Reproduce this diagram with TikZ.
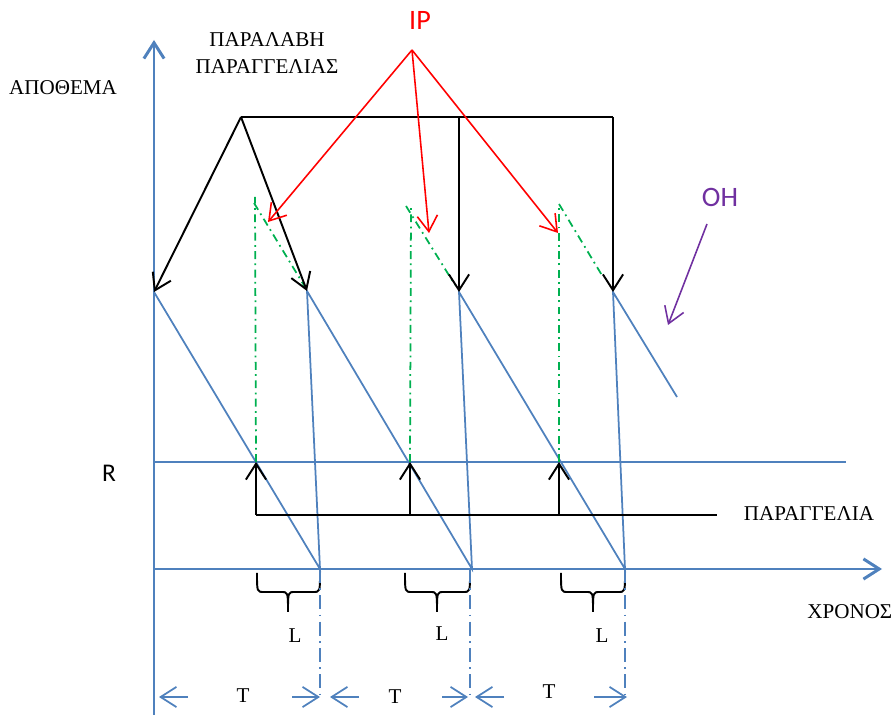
\documentclass[tikz,border=0pt]{standalone}
\usepackage{fontspec}
\setmainfont{Liberation Serif}
\newfontfamily\calibri{Carlito}
\usepackage{tikz}
\usetikzlibrary{arrows.meta}
\definecolor{axisblue}{RGB}{79,129,189}
\definecolor{ipgreen}{RGB}{0,176,80}
\definecolor{ohpurple}{RGB}{112,48,160}

\begin{document}
\begin{tikzpicture}[x=0.02cm, y=-0.02cm,
    barb/.style={-{Straight Barb[length=9pt,width=11.5pt]}},
    axis/.style={axisblue, line width=1.7pt},
    stock/.style={axisblue, line width=1pt},
    order/.style={black, line width=1.1pt},
    ipline/.style={ipgreen, line width=1pt, dash pattern=on 4.5pt off 2.5pt on 1pt off 2.5pt},
    tline/.style={axisblue, line width=1pt, dash pattern=on 8pt off 3pt on 1pt off 3pt},
    greek/.style={font=\fontsize{12}{14}\selectfont, inner sep=0pt},
    sans/.style={font=\calibri\fontsize{16}{18}\selectfont, inner sep=0pt}]
    \useasboundingbox (0,0) rectangle (896,715);

    % Axes
    \coordinate (yBot) at (154,715);
    \coordinate (yTop) at (154,40);
    \coordinate (O) at (154,569);
    \coordinate (xEnd) at (882,569);
    \draw[axis, barb] (yBot) -- (yTop);
    \draw[axis, barb] (O) -- (xEnd);
    \node[greek] (stock) at (63,88) {ΑΠΟΘΕΜΑ};
    \node[greek, anchor=west] (time) at (807,612) {ΧΡΟΝΟΣ};

    % Reorder level R
    \coordinate (Rl) at (154,462);
    \coordinate (Rr) at (846,462);
    \draw[stock] (Rl) -- (Rr);
    \node[sans, font=\calibri\fontsize{14.5}{16}\selectfont] (R) at (109,473) {R};

    % Stock curve
    \coordinate (p1) at (154,292);
    \coordinate (p2) at (307,291);
    \coordinate (p3) at (459,292);
    \coordinate (p4) at (613,292);
    \coordinate (t1) at (320,569);
    \coordinate (t2) at (472,569);
    \coordinate (t3) at (625,569);
    \coordinate (e) at (677,397);
    \draw[stock] (p1) -- (t1) -- (p2) -- (t2) -- (p3) -- (t3) -- (p4) -- (e);

    % Inventory position (green)
    \coordinate (r1) at (256,462);
    \coordinate (r2) at (410,462);
    \coordinate (r3) at (559,462);
    \coordinate (g1) at (255,197);
    \coordinate (g2) at (411,205);
    \coordinate (g3) at (559,204);
    \draw[ipline] (r1) -- (g1);
    \draw[ipline] (r2) -- (g2);
    \draw[ipline] (r3) -- (g3);
    \draw[ipline] (254,203) -- (305,287);
    \draw[ipline] (406,206) -- (455,285);
    \draw[ipline] (559,204) -- (603,277);

    % Orders
    \coordinate (o1) at (256,515);
    \coordinate (o2) at (410,515);
    \coordinate (o3) at (559,515);
    \coordinate (oEnd) at (717,515);
    \draw[order] (o1) -- (oEnd);
    \draw[order, barb] (o1) -- (r1);
    \draw[order, barb] (o2) -- (r2);
    \draw[order, barb] (o3) -- (r3);
    \node[greek] (order) at (809,514) {ΠΑΡΑΓΓΕΛΙΑ};

    % Receipt of orders
    \coordinate (apex) at (241,117);
    \coordinate (b3) at (459,117);
    \coordinate (b4) at (613,117);
    \draw[order] (apex) -- (b4);
    \draw[order, barb] (apex) -- (p1);
    \draw[order, barb] (apex) -- (p2);
    \draw[order, barb] (b3) -- (p3);
    \draw[order, barb] (b4) -- (p4);
    \node[greek] (recv) at (267,40) {ΠΑΡΑΛΑΒΗ};
    \node[greek] (recv2) at (267,67) {ΠΑΡΑΓΓΕΛΙΑΣ};

    % IP
    \node[sans, red] (IP) at (420,20) {IP};
    \coordinate (ip) at (412,50);
    \coordinate (ip1) at (268,222);
    \coordinate (ip2) at (429,233);
    \coordinate (ip3) at (558,233);
    \draw[red, line width=0.9pt, barb] (ip) -- (ip1);
    \draw[red, line width=0.9pt, barb] (ip) -- (ip2);
    \draw[red, line width=0.9pt, barb] (ip) -- (ip3);

    % OH
    \node[sans, ohpurple] (OH) at (720,197) {OH};
    \coordinate (oh1) at (707,224);
    \coordinate (oh2) at (668,325);
    \draw[ohpurple, line width=0.9pt, barb] (oh1) -- (oh2);

    % Lead time braces
    \draw[order] (257,573) .. controls (257,592) .. (264,592) -- (281,592) .. controls (288,592) .. (288,612);
    \draw[order] (288,612) .. controls (288,592) .. (295,592) -- (313,592) .. controls (320,592) .. (320,573);
    \draw[order] (405,573) .. controls (405,592) .. (412,592) -- (430,592) .. controls (437,592) .. (437,612);
    \draw[order] (437,612) .. controls (437,592) .. (444,592) -- (463,592) .. controls (470,592) .. (470,573);
    \draw[order] (561,573) .. controls (561,592) .. (568,592) -- (586,592) .. controls (593,592) .. (593,612);
    \draw[order] (593,612) .. controls (593,592) .. (600,592) -- (618,592) .. controls (625,592) .. (625,573);
    \node[greek] (L1) at (295,636) {L};
    \node[greek] (L2) at (442,634) {L};
    \node[greek] (L3) at (602,636) {L};

    % Review period T
    \coordinate (d1) at (320,700);
    \coordinate (d2) at (470,700);
    \coordinate (d3) at (625,700);
    \draw[tline] (t1) -- (d1);
    \draw[tline] (470,569) -- (d2);
    \draw[tline] (t3) -- (d3);
    \draw[stock, barb] (188,697) -- (159,697);
    \draw[stock, barb] (292,697) -- (320,697);
    \draw[stock, barb] (359,697) -- (330,697);
    \draw[stock, barb] (442,697) -- (468,697);
    \draw[stock, barb] (504,697) -- (475,697);
    \draw[stock, barb] (594,697) -- (627,697);
    \node[greek] (T1) at (243,696) {T};
    \node[greek] (T2) at (395,697) {T};
    \node[greek] (T3) at (549,692) {T};
\end{tikzpicture}
\end{document}
